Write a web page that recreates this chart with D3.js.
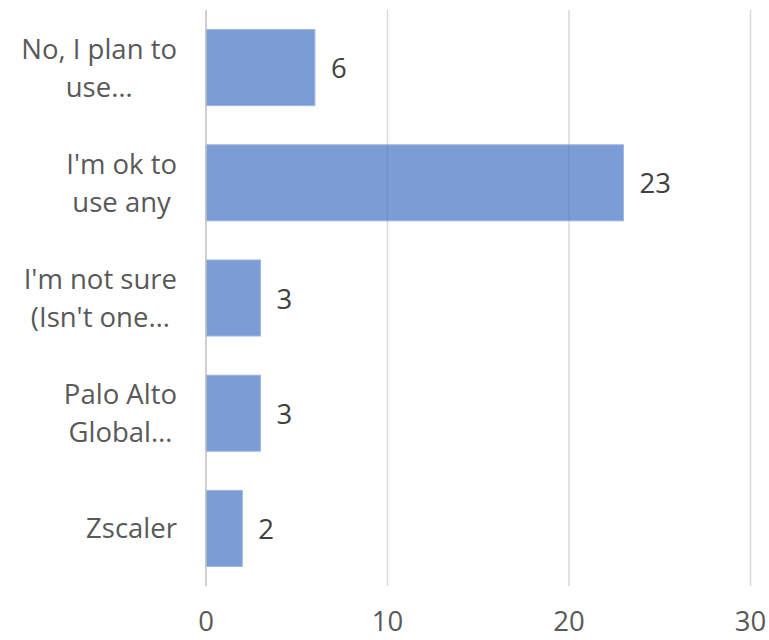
<!DOCTYPE html>
<html>
<head>
<meta charset="utf-8">
<script src="https://cdn.jsdelivr.net/npm/d3@7"></script>
<style>
  html, body { margin: 0; padding: 0; background: #fff; }
  svg { display: block; }
  text { font-family: "Open Sans", "DejaVu Sans", sans-serif; }
</style>
</head>
<body>
<svg id="chart" width="769" height="640"></svg>
<script>
// Survey answers (wrapped label lines) and their response counts
const categories = [
  ["No, I plan to", "use…"],
  ["I'm ok to", "use any"],
  ["I'm not sure", "(Isn't one…"],
  ["Palo Alto", "Global…"],
  ["Zscaler"]
];
const counts = [6, 23, 3, 3, 2];
const tickValues = [0, 10, 20, 30];

const svg = d3.select("#chart");
const W = 769, H = 640;
const margin = { top: 10, right: 18.5, bottom: 54, left: 206 };
const fontSize = 27.5;

const keys = categories.map(c => c.join(" "));
const data = keys.map((k, i) => ({ key: k, lines: categories[i], value: counts[i] }));

const x = d3.scaleLinear()
  .domain([0, 30])
  .range([margin.left, W - margin.right]);

const y = d3.scaleBand()
  .domain(keys)
  .range([margin.top, H - margin.bottom])
  .paddingInner(0.34)
  .paddingOuter(0.17);

// vertical gridlines
svg.append("g")
  .selectAll("line")
  .data(tickValues.filter(t => t !== 0))
  .join("line")
  .attr("x1", d => x(d)).attr("x2", d => x(d))
  .attr("y1", margin.top).attr("y2", H - margin.bottom)
  .attr("stroke", "#d9d9d9")
  .attr("stroke-width", 1.5);

// bars
svg.append("g")
  .selectAll("rect")
  .data(data)
  .join("rect")
  .attr("x", x(0))
  .attr("y", d => y(d.key))
  .attr("width", d => x(d.value) - x(0))
  .attr("height", y.bandwidth())
  .attr("fill", "#4472c4")
  .attr("fill-opacity", 0.7)
  .attr("stroke", "#9db5e0")
  .attr("stroke-width", 1);

// category axis line at zero
svg.append("line")
  .attr("x1", x(0)).attr("x2", x(0))
  .attr("y1", margin.top).attr("y2", H - margin.bottom)
  .attr("stroke", "#bfbfbf")
  .attr("stroke-width", 1.5);

// value labels
svg.append("g")
  .selectAll("text")
  .data(data)
  .join("text")
  .attr("x", d => x(d.value) + 16)
  .attr("y", d => y(d.key) + y.bandwidth() / 2 + 10.5)
  .attr("font-size", fontSize)
  .attr("fill", "#404040")
  .text(d => d.value);

// category labels: each block right-aligned, lines centred within it
const labelRight = 177;
const lineGap = 38;
const labelG = svg.append("g");
data.forEach(d => {
  const cy = y(d.key) + y.bandwidth() / 2;
  const n = d.lines.length;
  const texts = d.lines.map((ln, j) =>
    labelG.append("text")
      .attr("font-size", fontSize)
      .attr("fill", "#595959")
      .attr("text-anchor", "middle")
      .attr("y", cy + 10 + (j - (n - 1) / 2) * lineGap)
      .text(ln)
  );
  const widest = d3.max(texts, t => t.node().getComputedTextLength());
  texts.forEach(t => t.attr("x", labelRight - widest / 2));
});

// value axis tick labels
svg.append("g")
  .selectAll("text")
  .data(tickValues)
  .join("text")
  .attr("x", d => x(d))
  .attr("y", 631)
  .attr("text-anchor", "middle")
  .attr("font-size", fontSize)
  .attr("fill", "#595959")
  .text(d => d);
</script>
</body>
</html>
